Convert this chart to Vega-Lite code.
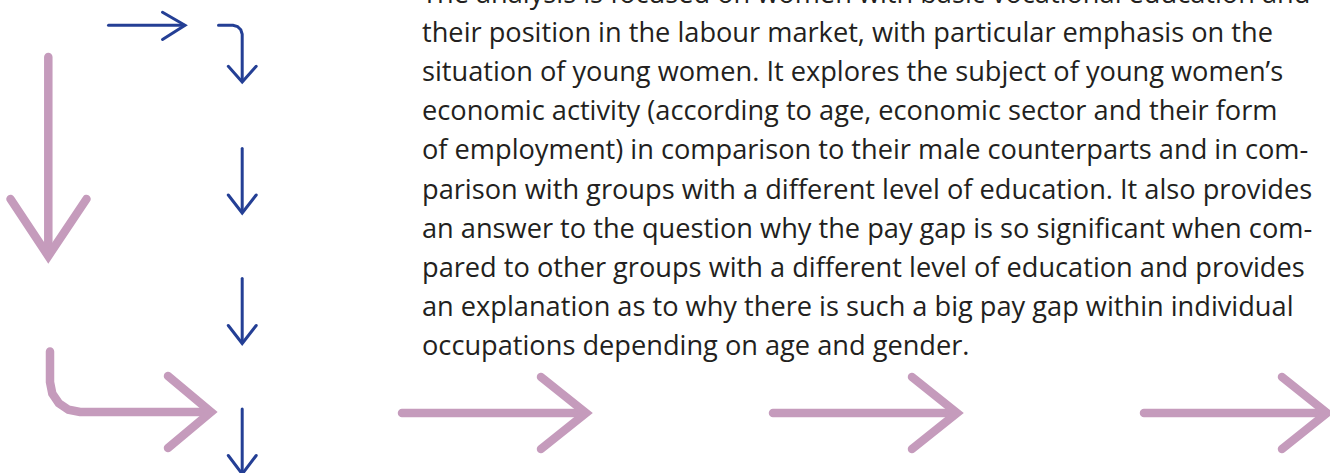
{
  "$schema": "https://vega.github.io/schema/vega-lite/v6.json",
  "width": 1330,
  "height": 473,
  "autosize": {"type": "fit", "contains": "padding"},
  "padding": 0,
  "background": "#ffffff",
  "config": {"view": {"stroke": null}},
  "datasets": {
    "paths": [
      {"id": "p1s", "k": "pink", "o": 1, "x": 48.3, "y": 57},
      {"id": "p1s", "k": "pink", "o": 2, "x": 48.3, "y": 250},
      {"id": "p1h", "k": "pink", "o": 1, "x": 10.5, "y": 199},
      {"id": "p1h", "k": "pink", "o": 2, "x": 48.3, "y": 256},
      {"id": "p1h", "k": "pink", "o": 3, "x": 86.5, "y": 199},
      {"id": "p2s", "k": "pink", "o": 1, "x": 50, "y": 351.5},
      {"id": "p2s", "k": "pink", "o": 2, "x": 50, "y": 382},
      {"id": "p2s", "k": "pink", "o": 3, "x": 52.3, "y": 393.5},
      {"id": "p2s", "k": "pink", "o": 4, "x": 58.8, "y": 403.2},
      {"id": "p2s", "k": "pink", "o": 5, "x": 68.5, "y": 409.7},
      {"id": "p2s", "k": "pink", "o": 6, "x": 80, "y": 412},
      {"id": "p2s", "k": "pink", "o": 7, "x": 205, "y": 412},
      {"id": "p2h", "k": "pink", "o": 1, "x": 168, "y": 376},
      {"id": "p2h", "k": "pink", "o": 2, "x": 211, "y": 412},
      {"id": "p2h", "k": "pink", "o": 3, "x": 168, "y": 448},
      {"id": "p3s", "k": "pink", "o": 1, "x": 402, "y": 413},
      {"id": "p3s", "k": "pink", "o": 2, "x": 580, "y": 413},
      {"id": "p3h", "k": "pink", "o": 1, "x": 541, "y": 377},
      {"id": "p3h", "k": "pink", "o": 2, "x": 586, "y": 413},
      {"id": "p3h", "k": "pink", "o": 3, "x": 541, "y": 449},
      {"id": "p4s", "k": "pink", "o": 1, "x": 773, "y": 413},
      {"id": "p4s", "k": "pink", "o": 2, "x": 951, "y": 413},
      {"id": "p4h", "k": "pink", "o": 1, "x": 912, "y": 377},
      {"id": "p4h", "k": "pink", "o": 2, "x": 957, "y": 413},
      {"id": "p4h", "k": "pink", "o": 3, "x": 912, "y": 449},
      {"id": "p5s", "k": "pink", "o": 1, "x": 1144, "y": 413},
      {"id": "p5s", "k": "pink", "o": 2, "x": 1322, "y": 413},
      {"id": "p5h", "k": "pink", "o": 1, "x": 1282, "y": 377},
      {"id": "p5h", "k": "pink", "o": 2, "x": 1327, "y": 413},
      {"id": "p5h", "k": "pink", "o": 3, "x": 1282, "y": 449},
      {"id": "b1s", "k": "blue", "o": 1, "x": 108.5, "y": 25.3},
      {"id": "b1s", "k": "blue", "o": 2, "x": 184, "y": 25.3},
      {"id": "b1h", "k": "blue", "o": 1, "x": 162.5, "y": 12.3},
      {"id": "b1h", "k": "blue", "o": 2, "x": 185, "y": 25.3},
      {"id": "b1h", "k": "blue", "o": 3, "x": 162.5, "y": 39.5},
      {"id": "b2s", "k": "blue", "o": 1, "x": 218.5, "y": 25.3},
      {"id": "b2s", "k": "blue", "o": 2, "x": 233, "y": 25.3},
      {"id": "b2s", "k": "blue", "o": 3, "x": 237.5, "y": 26.5},
      {"id": "b2s", "k": "blue", "o": 4, "x": 240.8, "y": 29.8},
      {"id": "b2s", "k": "blue", "o": 5, "x": 242.2, "y": 34.3},
      {"id": "b2s", "k": "blue", "o": 6, "x": 242.2, "y": 81},
      {"id": "b2h", "k": "blue", "o": 1, "x": 228.3, "y": 66.3},
      {"id": "b2h", "k": "blue", "o": 2, "x": 242.2, "y": 82},
      {"id": "b2h", "k": "blue", "o": 3, "x": 256.2, "y": 66.3},
      {"id": "b3s", "k": "blue", "o": 1, "x": 242.2, "y": 148.5},
      {"id": "b3s", "k": "blue", "o": 2, "x": 242.2, "y": 212},
      {"id": "b3h", "k": "blue", "o": 1, "x": 228.3, "y": 195},
      {"id": "b3h", "k": "blue", "o": 2, "x": 242.2, "y": 213},
      {"id": "b3h", "k": "blue", "o": 3, "x": 256.2, "y": 195},
      {"id": "b4s", "k": "blue", "o": 1, "x": 242.2, "y": 278.5},
      {"id": "b4s", "k": "blue", "o": 2, "x": 242.2, "y": 342.5},
      {"id": "b4h", "k": "blue", "o": 1, "x": 228.3, "y": 325.5},
      {"id": "b4h", "k": "blue", "o": 2, "x": 242.2, "y": 343.5},
      {"id": "b4h", "k": "blue", "o": 3, "x": 256.2, "y": 325.5},
      {"id": "b5s", "k": "blue", "o": 1, "x": 242.2, "y": 409},
      {"id": "b5s", "k": "blue", "o": 2, "x": 242.2, "y": 473},
      {"id": "b5h", "k": "blue", "o": 1, "x": 228.3, "y": 455.5},
      {"id": "b5h", "k": "blue", "o": 2, "x": 242.2, "y": 474},
      {"id": "b5h", "k": "blue", "o": 3, "x": 256.2, "y": 455.5}
    ],
    "lines": [
      {"x": 422, "y": 2.5, "t": "The analysis is focused on women with basic vocational education and"},
      {"x": 422, "y": 41.7, "t": "their position in the labour market, with particular emphasis on the"},
      {"x": 422, "y": 80.9, "t": "situation of young women. It explores the subject of young women’s"},
      {"x": 422, "y": 120.1, "t": "economic activity (according to age, economic sector and their form"},
      {"x": 422, "y": 159.3, "t": "of employment) in comparison to their male counterparts and in com-"},
      {"x": 422, "y": 198.5, "t": "parison with groups with a different level of education. It also provides"},
      {"x": 422, "y": 237.7, "t": "an answer to the question why the pay gap is so significant when com-"},
      {"x": 422, "y": 276.9, "t": "pared to other groups with a different level of education and provides"},
      {"x": 422, "y": 316.1, "t": "an explanation as to why there is such a big pay gap within individual"},
      {"x": 422, "y": 355.3, "t": "occupations depending on age and gender."}
    ]
  },
  "layer": [
    {
      "data": {"name": "paths"},
      "transform": [{"filter": "datum.k === 'pink'"}],
      "mark": {"type": "line", "stroke": "#c59bbc", "strokeWidth": 8.5, "strokeCap": "round", "strokeJoin": "miter", "clip": true},
      "encoding": {
        "x": {"field": "x", "type": "quantitative", "scale": {"domain": [0, 1330], "nice": false, "zero": false}, "axis": null},
        "y": {"field": "y", "type": "quantitative", "scale": {"domain": [0, 473], "reverse": true, "nice": false, "zero": false}, "axis": null},
        "detail": {"field": "id", "type": "nominal"},
        "order": {"field": "o", "type": "quantitative"}
      }
    },
    {
      "data": {"name": "paths"},
      "transform": [{"filter": "datum.k === 'blue'"}],
      "mark": {"type": "line", "stroke": "#243f95", "strokeWidth": 3, "strokeCap": "round", "strokeJoin": "miter", "clip": true},
      "encoding": {
        "x": {"field": "x", "type": "quantitative", "axis": null},
        "y": {"field": "y", "type": "quantitative", "axis": null},
        "detail": {"field": "id", "type": "nominal"},
        "order": {"field": "o", "type": "quantitative"}
      }
    },
    {
      "data": {"name": "lines"},
      "mark": {"type": "text", "align": "left", "baseline": "alphabetic", "font": "Open Sans", "fontSize": 27.2, "fill": "#231f20", "clip": true},
      "encoding": {
        "x": {"field": "x", "type": "quantitative", "axis": null},
        "y": {"field": "y", "type": "quantitative", "axis": null},
        "text": {"field": "t", "type": "nominal"}
      }
    }
  ]
}
